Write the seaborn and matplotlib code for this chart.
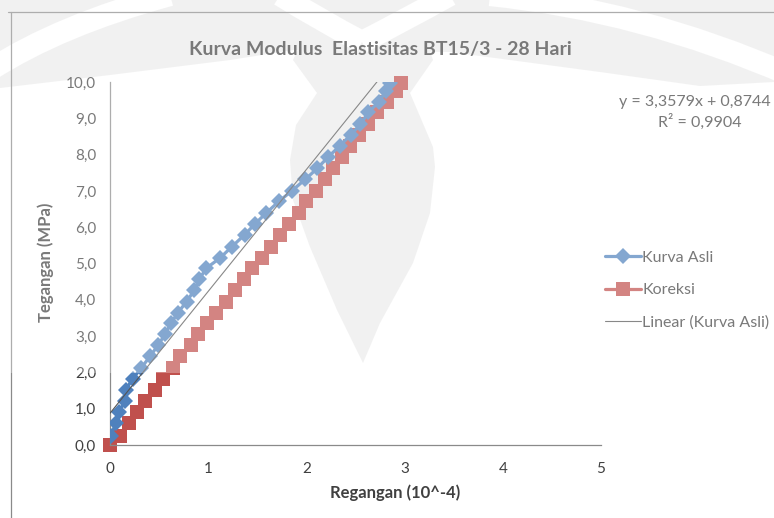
import numpy as np
import matplotlib
matplotlib.use("Agg")
import matplotlib.pyplot as plt
import seaborn as sns
from matplotlib.lines import Line2D
from matplotlib.patches import Polygon, Rectangle, PathPatch
from matplotlib.path import Path
from matplotlib.ticker import FuncFormatter

# data
strain_asli = [0.01, 0.06, 0.09, 0.15, 0.16, 0.23, 0.32, 0.41, 0.49, 0.56, 0.62,
               0.69, 0.78, 0.86, 0.91, 0.98, 1.12, 1.24, 1.37, 1.48, 1.59, 1.72,
               1.85, 1.99, 2.11, 2.22, 2.34, 2.45, 2.55, 2.63, 2.74, 2.81, 2.85]
stress_asli = [0.26, 0.61, 0.90, 1.20, 1.52, 1.82, 2.13, 2.45, 2.75, 3.05, 3.35,
               3.64, 3.95, 4.27, 4.57, 4.87, 5.15, 5.46, 5.79, 6.10, 6.39, 6.71,
               7.00, 7.32, 7.62, 7.93, 8.24, 8.54, 8.83, 9.16, 9.46, 9.75, 9.97]
strain_koreksi = [0.00, 0.10, 0.19, 0.27, 0.36, 0.46, 0.54, 0.64, 0.71, 0.82, 0.90,
                  0.99, 1.08, 1.18, 1.27, 1.36, 1.45, 1.55, 1.64, 1.73, 1.82, 1.92,
                  2.00, 2.10, 2.19, 2.27, 2.36, 2.44, 2.54, 2.63, 2.72, 2.82, 2.91, 2.96]
stress_koreksi = [0.00, 0.26, 0.61, 0.90, 1.20, 1.52, 1.82, 2.13, 2.45, 2.75, 3.05,
                  3.35, 3.64, 3.95, 4.27, 4.57, 4.87, 5.15, 5.46, 5.79, 6.10, 6.39,
                  6.71, 7.00, 7.32, 7.62, 7.93, 8.24, 8.54, 8.83, 9.16, 9.46, 9.75, 9.97]
slope, intercept, r2 = 3.3579, 0.8744, 0.9904

W, H = 774, 518
def fx(px):
    return px / W
def fy(py):
    return 1 - py / H

sns.set_style("white")
plt.rcParams['font.family'] = ['Lato', 'DejaVu Sans']

fig = plt.figure(figsize=(W / 100, H / 100), dpi=100)
fig.patch.set_facecolor("white")

# faint watermark in the background
wm = '#ececec'
top_band = [(0, 0), (774, 0), (774, 82), (700, 86), (600, 72), (450, 52), (293, 50),
            (230, 60), (110, 75), (0, 88)]
drop = [(300, 45), (293, 60), (317, 93), (296, 125), (290, 160), (293, 200), (310, 247),
        (337, 310), (363, 363), (380, 323), (413, 263), (430, 213), (435, 167),
        (433, 147), (410, 93), (433, 60), (428, 45)]
for shape in (top_band, drop):
    fig.patches.append(Polygon([(fx(a), fy(b)) for a, b in shape], closed=True,
                               transform=fig.transFigure, facecolor=wm,
                               edgecolor='none', zorder=-5))
arcs = [[(-10, 70), (60, 25), (170, -5)],
        [(280, -5), (320, 20), (362, 42)],
        [(362, 42), (405, 20), (450, -5)],
        [(490, -5), (640, 10), (790, 75)]]
for a in arcs:
    p = Path([(fx(u), fy(v)) for u, v in a], [Path.MOVETO, Path.CURVE3, Path.CURVE3])
    fig.patches.append(PathPatch(p, transform=fig.transFigure, facecolor='none',
                                 edgecolor='white', lw=16, zorder=-4))

# chart frame (cropped at right and bottom)
fig.add_artist(Line2D([fx(8), fx(774)], [fy(12), fy(12)], transform=fig.transFigure,
                      color='#8a8a8a', lw=0.9))
fig.add_artist(Line2D([fx(11), fx(11)], [fy(12), fy(518)], transform=fig.transFigure,
                      color='#8a8a8a', lw=0.9))

ax = fig.add_axes([fx(110), fy(445), fx(601) - fx(110), fy(82) - fy(445)])
ax.set_facecolor('none')

blue = '#4F81BD'
red = '#C0504D'

sns.lineplot(x=strain_asli, y=stress_asli, ax=ax, sort=False, estimator=None,
             color=blue, lw=2.3, marker='D', markersize=8.5, markeredgewidth=0,
             zorder=3)
sns.lineplot(x=strain_koreksi, y=stress_koreksi, ax=ax, sort=False, estimator=None,
             color=red, lw=2.3, marker='s', markersize=10, markeredgewidth=0,
             zorder=2, clip_on=False)
xs = np.array([0, max(strain_asli)])
ax.plot(xs, slope * xs + intercept, color='#555555', lw=0.8, zorder=4)

ax.set_xlim(0, 5)
ax.set_ylim(0, 10)
ax.set_xticks(range(0, 6))
ax.set_yticks(range(0, 11))
ax.yaxis.set_major_formatter(FuncFormatter(lambda v, p: f"{v:.1f}".replace('.', ',')))
for s in ['top', 'right']:
    ax.spines[s].set_visible(False)
for s in ['left', 'bottom']:
    ax.spines[s].set_color('#8a8a8a')
    ax.spines[s].set_linewidth(0.9)
ax.tick_params(axis='both', direction='out', length=4, width=0.9, color='#8a8a8a',
               labelsize=11, labelcolor='#404040', pad=6)
ax.tick_params(axis='x', pad=8)
ax.set_xlabel("Regangan (10^-4)", fontsize=12, fontweight='bold', color='#404040')
ax.set_ylabel("Tegangan (MPa)", fontsize=12, fontweight='bold', color='#404040')
ax.xaxis.set_label_coords((395 - 110) / (601 - 110), -(493 - 445) / (445 - 82),
                          transform=ax.transAxes)
ax.yaxis.set_label_coords(-(110 - 46) / (601 - 110), (445 - 262) / (445 - 82),
                          transform=ax.transAxes)
ax.xaxis.label.set_va('center')
ax.yaxis.label.set_va('center')

fig.text(fx(380), fy(50), "Kurva Modulus  Elastisitas BT15/3 - 28 Hari", ha='center',
         va='center', fontsize=14, fontweight='bold', color='#404040')
fig.text(fx(771), fy(102), "y = 3,3579x + 0,8744", ha='right', va='center',
         fontsize=11.5, color='#404040')
fig.text(fx(700), fy(122), "R² = 0,9904", ha='center', va='center',
         fontsize=11.5, color='#404040')

handles = [Line2D([], [], color=blue, lw=2.3, marker='D', markersize=8.5, markeredgewidth=0),
           Line2D([], [], color=red, lw=2.3, marker='s', markersize=10, markeredgewidth=0),
           Line2D([], [], color='#555555', lw=0.8)]
fig.legend(handles, ["Kurva Asli", "Koreksi", "Linear (Kurva Asli)"],
           loc='upper left', bbox_to_anchor=(fx(591), fy(236)), frameon=False,
           fontsize=11.5, handlelength=2.2, handletextpad=0.12, labelspacing=1.15,
           labelcolor='#404040')

# semi-transparent white veil over the upper part (as in the scanned page)
fig.patches.append(Rectangle((0, fy(373)), 1, 1 - fy(373), transform=fig.transFigure,
                             facecolor='white', alpha=0.3, edgecolor='none', zorder=10))

fig.savefig("out.png", dpi=100)
